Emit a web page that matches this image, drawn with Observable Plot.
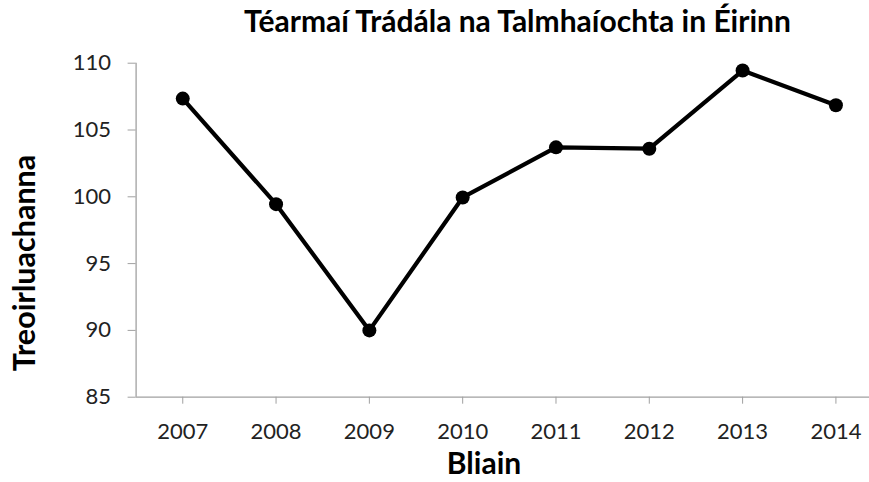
<!DOCTYPE html>
<html>
<head>
<meta charset="utf-8">
<script src="https://cdn.jsdelivr.net/npm/d3@7"></script>
<script src="https://cdn.jsdelivr.net/npm/@observablehq/plot@0.6"></script>
<style>
  html, body { margin: 0; padding: 0; background: #fff; }
  #wrap { position: relative; width: 869px; height: 482px; overflow: hidden; font-family: Lato, "Open Sans", sans-serif; }
  #chart { position: absolute; left: 0; top: 0; }
  .title { position: absolute; left: 198px; top: 2px; width: 639px; text-align: center; font-weight: bold; font-size: 30px; color: #000; white-space: nowrap; }
  .xlabel { position: absolute; left: 434px; top: 444px; width: 100px; text-align: center; font-weight: bold; font-size: 30px; color: #000; }
  .ylabel { position: absolute; left: 23px; top: 263px; transform: translate(-50%, -50%) rotate(-90deg); font-weight: bold; font-size: 30.5px; color: #000; white-space: nowrap; }
</style>
</head>
<body>
<div id="wrap">
  <div id="chart"></div>
  <div class="title">Téarmaí Trádála na Talmhaíochta in Éirinn</div>
  <div class="ylabel">Treoirluachanna</div>
  <div class="xlabel">Bliain</div>
</div>
<script>
const years = [2007, 2008, 2009, 2010, 2011, 2012, 2013, 2014];
const values = [107.35, 99.45, 90.0, 99.95, 103.7, 103.6, 109.45, 106.85];
const yTicks = [85, 90, 95, 100, 105, 110];

const data = years.map((y, i) => ({year: y, value: values[i]}));

const chart = Plot.plot({
  width: 869,
  height: 482,
  marginTop: 62.7,
  marginBottom: 85.3,
  marginLeft: 135.6,
  marginRight: 0,
  style: {fontFamily: "Lato, 'Open Sans', sans-serif", fontSize: "22px", color: "#222", background: "#fff"},
  x: {domain: [2006.5, 2014.36]},
  y: {domain: [85, 110]},
  marks: [
    Plot.ruleX([2006.5], {stroke: "#a0a0a0", strokeWidth: 1.3}),
    Plot.ruleY([85], {stroke: "#a0a0a0", strokeWidth: 1.3}),
    Plot.axisY({ticks: yTicks, tickSize: 8, tickPadding: 17, stroke: "#a0a0a0", label: null, tickFormat: d => String(d)}),
    Plot.axisX({ticks: years, tickSize: 7, tickPadding: 19, stroke: "#a0a0a0", label: null, tickFormat: d => String(d)}),
    Plot.line(data, {x: "year", y: "value", stroke: "#000", strokeWidth: 4.2, strokeLinejoin: "round"}),
    Plot.dot(data, {x: "year", y: "value", r: 7, fill: "#000", stroke: "none"})
  ]
});
document.getElementById("chart").appendChild(chart);
</script>
</body>
</html>
